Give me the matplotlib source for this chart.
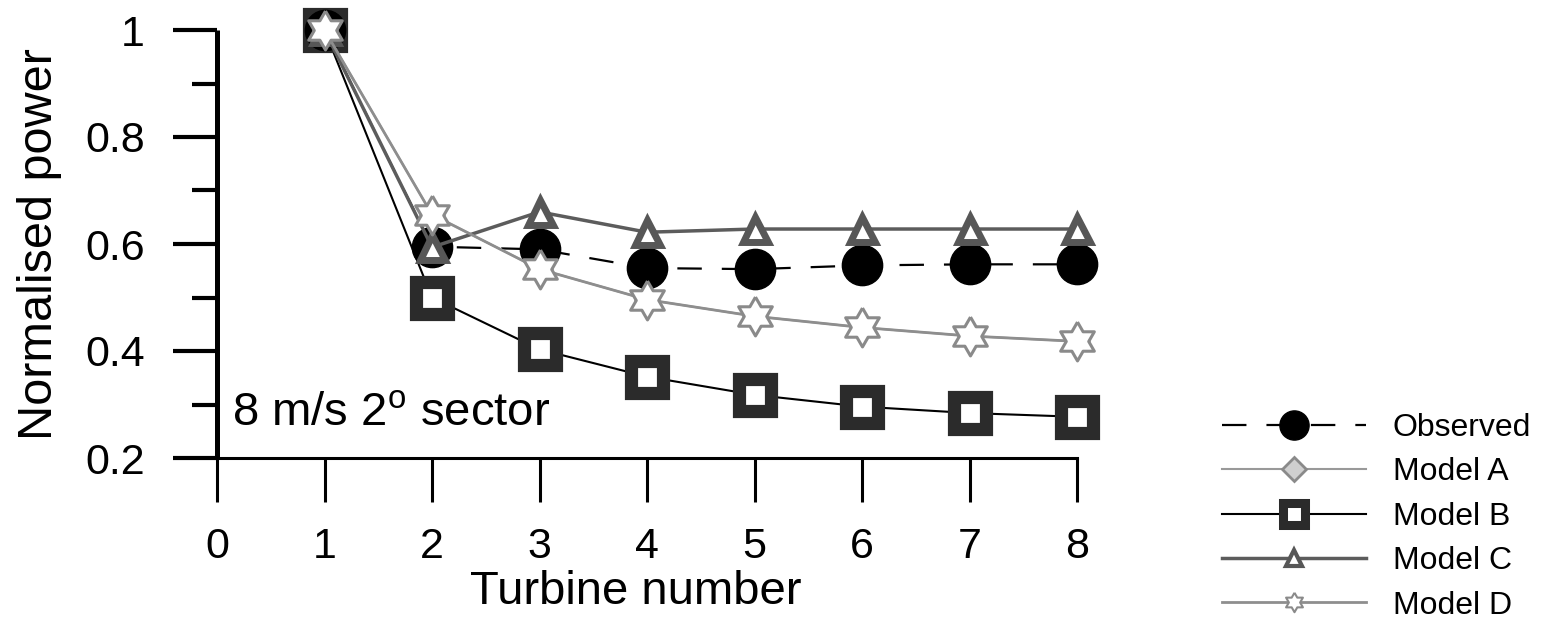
import numpy as np
import matplotlib
matplotlib.use("Agg")
import matplotlib.pyplot as plt
from matplotlib.ticker import MultipleLocator

plt.rcParams['font.family'] = ['Liberation Sans', 'DejaVu Sans']
plt.rcParams['mathtext.fontset'] = 'custom'
plt.rcParams['mathtext.rm'] = 'Liberation Sans'

# ---- data ----
turbine = [1, 2, 3, 4, 5, 6, 7, 8]
observed = [1.0, 0.595, 0.59, 0.555, 0.553, 0.56, 0.562, 0.562]
model_a = [1.0, 0.655, 0.553, 0.496, 0.465, 0.444, 0.428, 0.418]
model_b = [1.0, 0.50, 0.403, 0.352, 0.318, 0.296, 0.284, 0.277]
model_c = [1.0, 0.594, 0.66, 0.622, 0.628, 0.628, 0.628, 0.628]
model_d = [1.0, 0.655, 0.553, 0.496, 0.465, 0.444, 0.428, 0.418]
labels = ['Observed', 'Model A', 'Model B', 'Model C', 'Model D']
xticks = [0, 1, 2, 3, 4, 5, 6, 7, 8]
yticks = [0.2, 0.4, 0.6, 0.8, 1.0]
yticklabels = ['0.2', '0.4', '0.6', '0.8', '1']

# hexagram marker
ang_o = np.deg2rad(90 + 60 * np.arange(6))
ang_i = ang_o + np.deg2rad(30)
r_i = 1 / np.sqrt(3)
star = []
for ao, ai in zip(ang_o, ang_i):
    star.append((np.cos(ao), np.sin(ao)))
    star.append((r_i * np.cos(ai), r_i * np.sin(ai)))
star.append(star[0])

fig = plt.figure(figsize=(15.44, 6.23), dpi=100)
ax = fig.add_axes([217 / 1544, 1 - 458 / 623, 860 / 1544, 428 / 623])

lb, = ax.plot(turbine, model_b, color='black', lw=1.5, marker='s', ms=23,
              mfc='white', mec='#2b2b2b', mew=9.5, clip_on=False, zorder=3,
              label=labels[2])
lo, = ax.plot(turbine, observed, color='black', lw=1.6, ls=(0, (11, 9)),
              marker='o', ms=29, mfc='black', mec='black', mew=1,
              clip_on=False, zorder=4, label=labels[0])
la, = ax.plot(turbine, model_a, color='#999999', lw=1.5, marker='D', ms=11,
              mfc='#cfcfcf', mec='#8a8a8a', mew=2.5, clip_on=False, zorder=4.5,
              label=labels[1])
lc, = ax.plot(turbine, model_c, color='#5c5c5c', lw=2.5, marker='^', ms=18,
              mfc='white', mec='#575757', mew=5, clip_on=False, zorder=5,
              label=labels[3])
ld, = ax.plot(turbine, model_d, color='#8e8e8e', lw=2.0, marker=star, ms=28,
              mfc='white', mec='#8a8a8a', mew=2.2, clip_on=False, zorder=6,
              label=labels[4])

ax.set_xlim(0, 8)
ax.set_ylim(0.2, 1.0)
ax.set_xticks(xticks)
ax.set_yticks(yticks)
ax.set_yticklabels(yticklabels)
ax.yaxis.set_minor_locator(MultipleLocator(0.1))

for s in ['top', 'right']:
    ax.spines[s].set_visible(False)
ax.spines['left'].set_linewidth(3.6)
ax.spines['bottom'].set_linewidth(2.2)
ax.spines['left'].set_capstyle('butt')

ax.tick_params(axis='y', which='major', direction='out', length=32, width=3,
               labelsize=31, pad=20)
ax.tick_params(axis='y', which='minor', direction='out', length=18, width=3)
ax.tick_params(axis='x', which='major', direction='out', length=32, width=2.2,
               labelsize=31, pad=18)

ax.set_ylabel('Normalised power', fontsize=35)
ax.yaxis.set_label_coords(-0.180, 0.5)
ax.set_xlabel('Turbine number', fontsize=34)
ax.xaxis.set_label_coords(0.487, -0.262)

ax.text(0.0174, 0.077, r'8 m/s 2$^{\mathrm{o}}$ sector', transform=ax.transAxes,
        fontsize=34, ha='left', va='baseline')

leg = fig.legend(handles=[lo, la, lb, lc, ld], labels=labels,
                 loc='upper left', bbox_to_anchor=(1222 / 1544, 1 - 413 / 623),
                 frameon=False, fontsize=23, handlelength=4.5,
                 handletextpad=0.85, labelspacing=0.45, borderpad=0,
                 borderaxespad=0)
hs = leg.legend_handles
sizes = [(21, 1), (12, 2.0), (16, 6.5), (11, 3), (14, 1.5)]
for h, (ms, mew) in zip(hs, sizes):
    h.set_markersize(ms)
    h.set_markeredgewidth(mew)

fig.savefig('out.png', dpi=100)
